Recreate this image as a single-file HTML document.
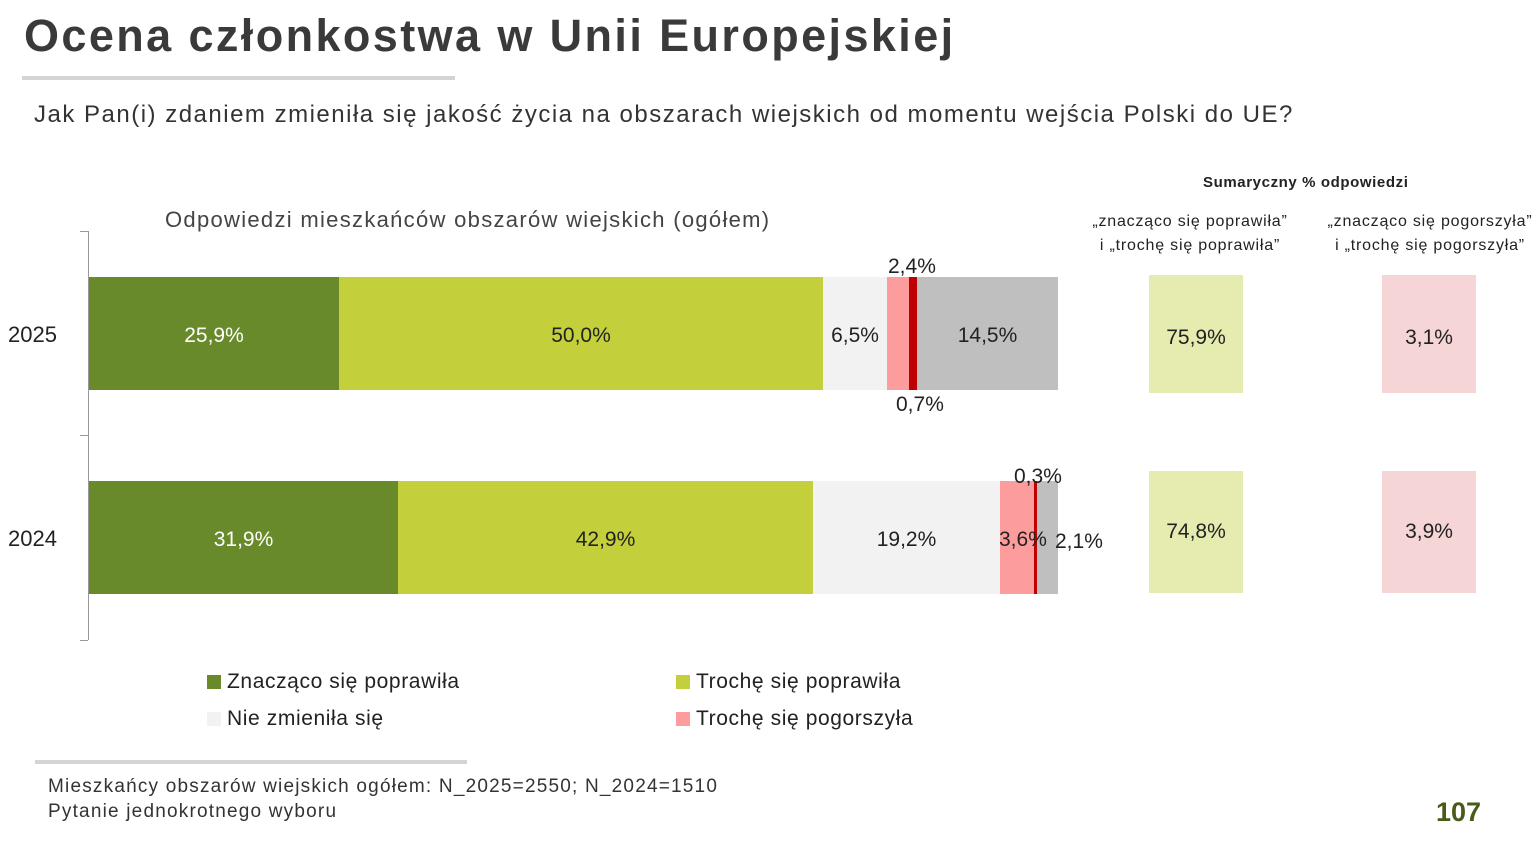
<!DOCTYPE html><html><head><meta charset="utf-8"><style>
body{margin:0;width:1540px;height:851px;background:#fff;position:relative;overflow:hidden;font-family:"Liberation Sans",sans-serif;color:#222}
div{position:absolute}
.s{top:0;height:100%;display:flex;align-items:center;justify-content:center;font-size:21px;padding-top:4px;box-sizing:border-box}
.t{font-size:21px;white-space:nowrap}
.b{display:flex;align-items:center;justify-content:center;padding-top:8px;box-sizing:border-box}
</style></head><body>
<div style="left:24px;top:10px;font-size:45px;font-weight:bold;color:#3a3a3a;letter-spacing:2.4px;white-space:nowrap">Ocena członkostwa w Unii Europejskiej</div>
<div style="left:22px;top:76px;width:433px;height:4px;background:#d4d4d4"></div>
<div style="left:34px;top:101px;font-size:24px;color:#333;letter-spacing:1.5px;white-space:nowrap">Jak Pan(i) zdaniem zmieniła się jakość życia na obszarach wiejskich od momentu wejścia Polski do UE?</div>
<div style="left:165px;top:207px;font-size:22px;color:#444;letter-spacing:1.3px;white-space:nowrap">Odpowiedzi mieszkańców obszarów wiejskich (ogółem)</div>
<div style="left:1203px;top:174px;font-size:15px;font-weight:bold;letter-spacing:0.6px;white-space:nowrap">Sumaryczny % odpowiedzi</div>
<div style="left:1080px;top:210px;width:220px;text-align:center;font-size:16px;letter-spacing:0.8px;line-height:24px">„znacząco się poprawiła”<br>i „trochę się poprawiła”</div>
<div style="left:1320px;top:210px;width:220px;text-align:center;font-size:16px;letter-spacing:0.8px;line-height:24px">„znacząco się pogorszyła”<br>i „trochę się pogorszyła”</div>
<div style="left:88px;top:231px;width:1px;height:409px;background:#999"></div>
<div style="left:80px;top:231px;width:8px;height:1px;background:#999"></div>
<div style="left:80px;top:435px;width:8px;height:1px;background:#999"></div>
<div style="left:80px;top:640px;width:8px;height:1px;background:#999"></div>
<div class="t" style="left:8px;top:322px;font-size:22px">2025</div>
<div class="t" style="left:8px;top:526px;font-size:22px">2024</div>
<div style="left:89px;top:277px;width:969px;height:113px">
<div class="s" style="left:0;width:250px;background:#688a2a;color:#fff">25,9%</div>
<div class="s" style="left:250px;width:484px;background:#c3d03c">50,0%</div>
<div class="s" style="left:734px;width:64px;background:#f2f2f2">6,5%</div>
<div class="s" style="left:798px;width:22px;background:#fd9c9c"></div>
<div class="s" style="left:820px;width:8px;background:#c00000"></div>
<div class="s" style="left:828px;width:141px;background:#bfbfbf">14,5%</div>
</div>
<div class="t" style="left:888px;top:255px">2,4%</div>
<div class="t" style="left:896px;top:393px">0,7%</div>
<div style="left:89px;top:481px;width:969px;height:113px">
<div class="s" style="left:0;width:309px;background:#688a2a;color:#fff">31,9%</div>
<div class="s" style="left:309px;width:415px;background:#c3d03c">42,9%</div>
<div class="s" style="left:724px;width:187px;background:#f2f2f2">19,2%</div>
<div class="s" style="left:911px;width:34px;background:#fd9c9c"></div>
<div class="s" style="left:945px;width:3px;background:#c00000"></div>
<div class="s" style="left:948px;width:21px;background:#bfbfbf"></div>
</div>
<div class="t" style="left:999px;top:528px">3,6%</div>
<div class="t" style="left:1055px;top:530px">2,1%</div>
<div class="t" style="left:1014px;top:465px">0,3%</div>
<div class="t b" style="left:1149px;top:275px;width:94px;height:118px;background:#e6ebb0">75,9%</div>
<div class="t b" style="left:1382px;top:275px;width:94px;height:118px;background:#f5d5d5">3,1%</div>
<div class="t b" style="left:1149px;top:471px;width:94px;height:122px;background:#e6ebb0;padding-top:0">74,8%</div>
<div class="t b" style="left:1382px;top:471px;width:94px;height:122px;background:#f5d5d5;padding-top:0">3,9%</div>
<div style="left:207px;top:675px;width:14px;height:14px;background:#688a2a"></div>
<div class="t" style="left:227px;top:670px;letter-spacing:0.6px">Znacząco się poprawiła</div>
<div style="left:676px;top:675px;width:14px;height:14px;background:#c3d03c"></div>
<div class="t" style="left:696px;top:670px;letter-spacing:0.6px">Trochę się poprawiła</div>
<div style="left:207px;top:712px;width:14px;height:14px;background:#f2f2f2"></div>
<div class="t" style="left:227px;top:707px;letter-spacing:0.6px">Nie zmieniła się</div>
<div style="left:676px;top:712px;width:14px;height:14px;background:#fd9c9c"></div>
<div class="t" style="left:696px;top:707px;letter-spacing:0.6px">Trochę się pogorszyła</div>
<div style="left:35px;top:760px;width:432px;height:4px;background:#d4d4d4"></div>
<div style="left:48px;top:774px;font-size:19px;line-height:25px;color:#333;letter-spacing:1.2px;white-space:nowrap">Mieszkańcy obszarów wiejskich ogółem: N_2025=2550; N_2024=1510<br>Pytanie jednokrotnego wyboru</div>
<div style="left:1436px;top:797px;font-size:27px;font-weight:bold;color:#4a5a1a">107</div>
</body></html>
